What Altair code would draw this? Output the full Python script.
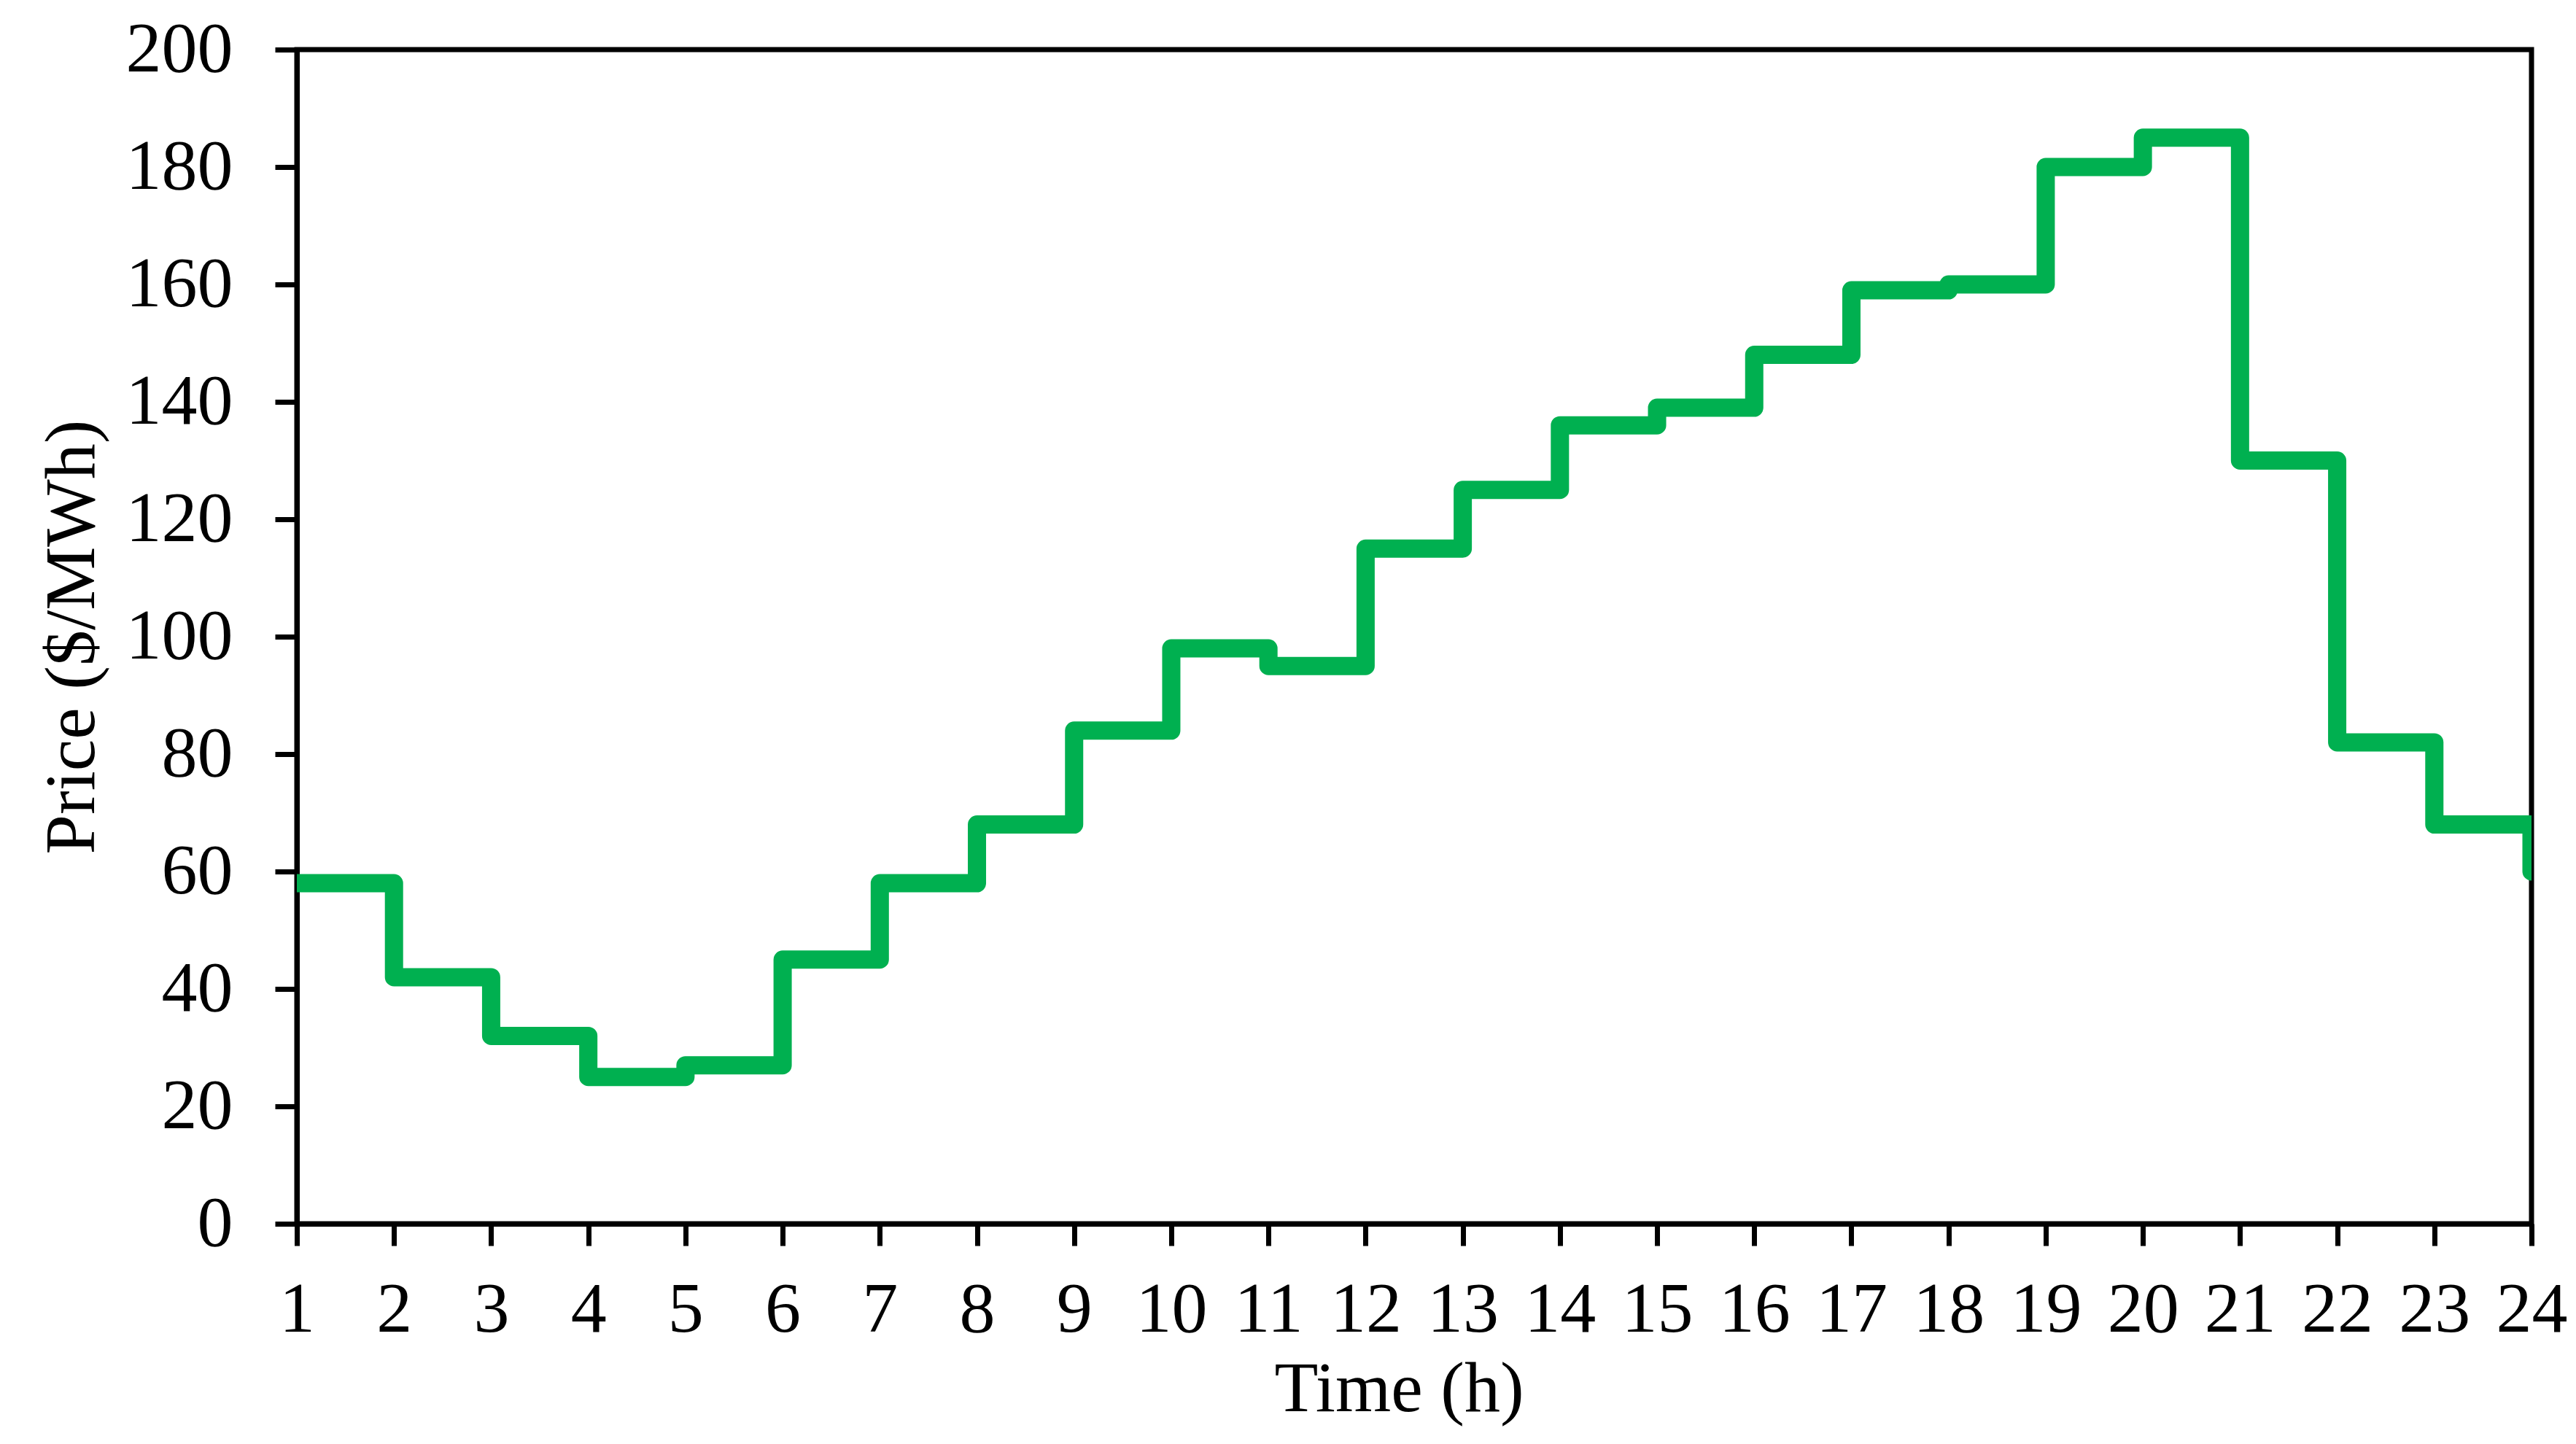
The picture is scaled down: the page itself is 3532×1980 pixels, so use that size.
import altair as alt
import pandas as pd

hours = list(range(1, 25))
prices = [58, 42, 32, 25, 27, 45, 58, 68, 84, 98, 95, 115,
          125, 136, 139, 148, 159, 160, 180, 185, 130, 82, 68, 60]
x_ticks = list(range(1, 25))
y_ticks = list(range(0, 201, 20))

df = pd.DataFrame({"hour": hours, "price": prices})

FONT = "Liberation Serif"
FS = 98

chart = alt.Chart(df).mark_line(
    interpolate="step-after",
    color="#00B050",
    strokeWidth=25,
    strokeJoin="round",
    strokeCap="round",
    clip=True,
).encode(
    x=alt.X(
        "hour:Q",
        scale=alt.Scale(domain=[1, 24], nice=False, zero=False),
        axis=alt.Axis(
            values=x_ticks,
            title="Time (h)",
            titleX=1511,
            titleY=256,
            titleBaseline="alphabetic",
            labelPadding=40,
        ),
    ),
    y=alt.Y(
        "price:Q",
        scale=alt.Scale(domain=[0, 200], nice=False),
        axis=alt.Axis(
            values=y_ticks,
            title="Price ($/MWh)",
            titleX=-279,
            titleY=805,
            titleAngle=-90,
            titleAlign="center",
            titleBaseline="alphabetic",
            labelPadding=58,
        ),
    ),
).properties(
    width=3064,
    height=1610,
    autosize=alt.AutoSizeParams(type="none"),
    padding={"left": 399, "top": 60, "right": 50, "bottom": 290},
).configure_view(
    stroke="black",
    strokeWidth=7,
).configure_axis(
    domainColor="black",
    domainWidth=7,
    tickColor="black",
    tickWidth=7,
    tickSize=30,
    grid=False,
    labelFont=FONT,
    labelFontSize=FS,
    labelColor="black",
    labelFlush=False,
    labelOverlap=False,
    titleFont=FONT,
    titleFontSize=FS,
    titleFontWeight="normal",
    titleColor="black",
)

chart.save("out.html", embed_options={"renderer": "svg", "actions": False})
